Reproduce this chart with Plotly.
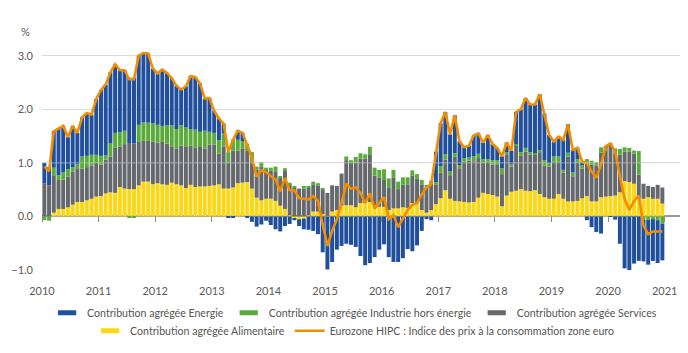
import plotly.graph_objects as go

years = list(range(2010, 2021))
months = [y + (m + 0.5) / 12 for y in years for m in range(12)]
tick_years = list(range(2010, 2022))

energie = [
    0.38, 0.34, 0.68, 0.87, 0.87, 0.60, 0.77, 0.59, 0.73, 0.80, 0.75, 1.04,
    1.23, 1.32, 1.33, 1.28, 1.16, 1.13, 1.22, 1.23, 1.29, 1.29, 1.29, 1.02,
    0.96, 1.05, 0.98, 0.88, 0.81, 0.67, 0.77, 0.99, 0.98, 0.90, 0.60, 0.63,
    0.41, 0.41, 0.18, -0.03, -0.03, 0.17, 0.16, -0.03, -0.10, -0.19, -0.15, -0.08,
    -0.16, -0.24, -0.28, -0.18, -0.14, -0.03, -0.12, -0.20, -0.25, -0.27, -0.33, -0.67,
    -0.99, -0.85, -0.62, -0.55, -0.51, -0.53, -0.57, -0.74, -0.91, -0.87, -0.76, -0.62,
    -0.52, -0.76, -0.85, -0.85, -0.78, -0.61, -0.65, -0.54, -0.27, -0.05, -0.07, 0.57,
    0.80, 0.79, 0.69, 0.71, 0.44, 0.20, 0.22, 0.39, 0.38, 0.31, 0.45, 0.30,
    0.23, 0.22, 0.18, 0.26, 0.60, 0.80, 0.93, 0.89, 0.91, 1.04, 0.87, 0.53,
    0.28, 0.37, 0.56, 0.53, 0.42, 0.21, 0.06, -0.07, -0.20, -0.29, -0.32, 0.04,
    -0.01, -0.06, -0.51, -0.97, -1.02, -0.88, -0.83, -0.78, -0.84, -0.78, -0.80, -0.68,
]
industrie = [
    -0.07, -0.08, 0.14, 0.09, 0.13, 0.14, 0.08, 0.07, 0.23, 0.21, 0.20, 0.15,
    0.16, 0.08, 0.24, 0.28, 0.27, 0.25, -0.03, -0.03, 0.32, 0.35, 0.34, 0.34,
    0.33, 0.30, 0.34, 0.39, 0.36, 0.38, 0.35, 0.31, 0.34, 0.27, 0.33, 0.24,
    0.22, 0.25, 0.24, 0.19, 0.21, 0.20, 0.14, 0.14, 0.18, 0.06, 0.08, 0.03,
    0.05, 0.10, 0.03, 0.05, 0.03, 0.02, -0.01, 0.05, 0.03, 0.05, 0.04, 0.01,
    0.00, 0.00, 0.00, 0.00, 0.07, 0.05, 0.11, 0.10, 0.08, 0.14, 0.15, 0.14,
    0.20, 0.18, 0.14, 0.14, 0.14, 0.13, 0.10, 0.08, 0.08, 0.06, 0.05, 0.04,
    0.12, 0.10, 0.07, 0.06, 0.06, 0.07, 0.06, 0.09, 0.08, 0.06, 0.05, 0.08,
    0.09, 0.11, 0.04, 0.04, 0.02, 0.07, 0.07, 0.05, 0.03, 0.04, 0.10, 0.06,
    0.10, 0.10, 0.05, 0.07, 0.07, 0.06, 0.07, 0.06, 0.07, 0.06, 0.10, 0.05,
    0.03, 0.09, 0.11, 0.08, 0.07, 0.06, 0.44, -0.06, -0.06, -0.05, -0.07, -0.14,
]
services = [
    0.62, 0.58, 0.70, 0.54, 0.55, 0.57, 0.62, 0.63, 0.62, 0.62, 0.62, 0.63,
    0.59, 0.63, 0.67, 0.84, 0.75, 0.83, 0.86, 0.85, 0.81, 0.76, 0.76, 0.80,
    0.76, 0.79, 0.77, 0.68, 0.67, 0.74, 0.78, 0.73, 0.73, 0.75, 0.71, 0.77,
    0.76, 0.57, 0.79, 0.49, 0.69, 0.61, 0.63, 0.58, 0.50, 0.52, 0.63, 0.55,
    0.53, 0.54, 0.52, 0.71, 0.58, 0.54, 0.52, 0.52, 0.52, 0.51, 0.49, 0.47,
    0.43, 0.49, 0.45, 0.60, 0.84, 0.79, 0.83, 0.83, 0.83, 0.89, 0.55, 0.55,
    0.50, 0.41, 0.58, 0.36, 0.42, 0.44, 0.51, 0.45, 0.48, 0.46, 0.50, 0.37,
    0.48, 0.57, 0.44, 0.83, 0.62, 0.75, 0.78, 0.76, 0.74, 0.57, 0.60, 0.57,
    0.59, 0.60, 0.77, 0.47, 0.85, 0.62, 0.73, 0.68, 0.66, 0.78, 0.59, 0.60,
    0.69, 0.60, 0.49, 0.84, 0.47, 0.72, 0.55, 0.63, 0.69, 0.67, 0.83, 0.85,
    0.96, 0.79, 0.70, 0.55, 0.57, 0.56, 0.45, 0.28, 0.21, 0.22, 0.26, 0.30,
]
alimentaire = [
    0.00, 0.00, 0.07, 0.14, 0.14, 0.17, 0.22, 0.27, 0.27, 0.30, 0.33, 0.37,
    0.38, 0.43, 0.45, 0.44, 0.55, 0.52, 0.51, 0.51, 0.58, 0.65, 0.65, 0.60,
    0.62, 0.60, 0.59, 0.63, 0.60, 0.58, 0.53, 0.59, 0.55, 0.56, 0.56, 0.57,
    0.58, 0.60, 0.52, 0.52, 0.54, 0.62, 0.63, 0.64, 0.52, 0.35, 0.30, 0.33,
    0.33, 0.29, 0.20, 0.14, 0.02, -0.04, -0.05, -0.04, 0.02, 0.09, 0.09, 0.04,
    0.01, 0.09, 0.12, 0.20, 0.21, 0.21, 0.17, 0.25, 0.25, 0.27, 0.21, 0.18,
    0.18, 0.12, 0.15, 0.15, 0.17, 0.16, 0.25, 0.26, 0.12, 0.07, 0.12, 0.23,
    0.34, 0.49, 0.33, 0.29, 0.28, 0.27, 0.26, 0.27, 0.35, 0.44, 0.42, 0.40,
    0.37, 0.19, 0.39, 0.46, 0.48, 0.51, 0.48, 0.47, 0.49, 0.42, 0.36, 0.33,
    0.33, 0.42, 0.33, 0.28, 0.28, 0.29, 0.34, 0.38, 0.28, 0.28, 0.36, 0.37,
    0.38, 0.39, 0.45, 0.66, 0.64, 0.61, 0.33, 0.33, 0.36, 0.33, 0.33, 0.24,
]
hipc = [
    0.93, 0.84, 1.59, 1.64, 1.69, 1.48, 1.69, 1.56, 1.85, 1.93, 1.90, 2.19,
    2.36, 2.46, 2.69, 2.84, 2.73, 2.73, 2.56, 2.56, 3.00, 3.05, 3.04, 2.76,
    2.67, 2.74, 2.68, 2.58, 2.44, 2.37, 2.43, 2.62, 2.60, 2.48, 2.20, 2.21,
    1.97, 1.83, 1.73, 1.20, 1.43, 1.60, 1.56, 1.33, 1.10, 0.74, 0.86, 0.83,
    0.75, 0.69, 0.47, 0.72, 0.49, 0.49, 0.34, 0.33, 0.32, 0.38, 0.29, -0.15,
    -0.55, -0.27, -0.05, 0.25, 0.61, 0.52, 0.54, 0.44, 0.25, 0.43, 0.15, 0.25,
    0.36, -0.05, 0.02, -0.20, -0.05, 0.12, 0.21, 0.25, 0.41, 0.54, 0.60, 1.21,
    1.74, 1.95, 1.53, 1.89, 1.40, 1.29, 1.32, 1.51, 1.55, 1.38, 1.52, 1.35,
    1.28, 1.12, 1.38, 1.23, 1.95, 2.00, 2.21, 2.09, 2.09, 2.28, 1.92, 1.52,
    1.40, 1.49, 1.43, 1.72, 1.24, 1.28, 1.02, 1.00, 0.84, 0.72, 0.97, 1.31,
    1.36, 1.21, 0.75, 0.32, 0.12, 0.29, 0.39, -0.17, -0.33, -0.28, -0.28, -0.28,
]

names = {
    "e": "Contribution agrégée Energie",
    "i": "Contribution agrégée Industrie hors énergie",
    "s": "Contribution agrégée Services",
    "a": "Contribution agrégée Alimentaire",
    "h": "Eurozone HIPC : Indice des prix à la consommation zone euro",
}
colors = {"e": "#1f4f9d", "i": "#5aab3b", "s": "#65686c", "a": "#fcd718", "h": "#f28c00"}

fig = go.Figure()
# stacked bars (first trace nearest zero)
for key, vals in [("a", alimentaire), ("s", services), ("i", industrie), ("e", energie)]:
    fig.add_trace(go.Bar(x=months, y=vals, name=names[key], marker_color=colors[key],
                         marker_line_width=0, showlegend=False))
fig.add_trace(go.Scatter(x=months, y=hipc, name=names["h"], mode="lines",
                         line=dict(color=colors["h"], width=2.6), legend="legend2", legendrank=2))

# legend-only entries with flat rectangular swatches
for key, leg, rank in [("e", "legend", 1), ("i", "legend", 2), ("s", "legend", 3), ("a", "legend2", 1)]:
    fig.add_trace(go.Scatter(x=[None], y=[None], mode="markers", name=names[key],
                             marker=dict(symbol="line-ew", size=13,
                                         line=dict(color=colors[key], width=5)),
                             legend=leg, legendrank=rank, hoverinfo="skip"))

# invisible trace carrying the tick axis placed on the zero line
fig.add_trace(go.Scatter(x=[tick_years[0]], y=[0], xaxis="x2", mode="markers",
                         marker=dict(opacity=0), showlegend=False, hoverinfo="skip"))

ymin, ymax = -1.0, 3.2
font = dict(family="Lato", size=11, color="#595959")
lfont = dict(family="Lato", size=10.6, color="#555555")

fig.update_layout(
    width=688, height=353,
    margin=dict(l=42, r=8, t=45, b=80),
    paper_bgcolor="white", plot_bgcolor="white",
    barmode="relative", bargap=0.16,
    font=font,
    showlegend=True,
    xaxis=dict(range=[2010, 2021.27], tickvals=tick_years, ticktext=[str(y) for y in tick_years],
               showgrid=False, zeroline=False, showline=False, ticks="",
               ticklabelstandoff=13, tickfont=font),
    xaxis2=dict(range=[2010, 2021.27], overlaying="x", anchor="free",
                position=(0 - ymin) / (ymax - ymin), tickvals=tick_years,
                showticklabels=False, ticks="outside", ticklen=5, tickcolor="#8a8a8a",
                tickwidth=1, showgrid=False, zeroline=False, showline=False, side="bottom"),
    yaxis=dict(range=[ymin, ymax], tickvals=[-1, 0, 1, 2, 3], tickformat=".1f",
               showgrid=True, gridcolor="#d9dadc", gridwidth=1,
               zeroline=True, zerolinecolor="#9b9b9b", zerolinewidth=1.5,
               ticks="", ticklabelstandoff=8, tickfont=font),
    legend=dict(orientation="h", x=0.49, xanchor="center", y=-0.19, yanchor="middle",
                font=lfont, traceorder="normal", itemwidth=30, bgcolor="rgba(0,0,0,0)"),
    legend2=dict(orientation="h", x=0.49, xanchor="center", y=-0.27, yanchor="middle",
                 font=lfont, traceorder="normal", itemwidth=30, bgcolor="rgba(0,0,0,0)"),
    annotations=[dict(text="%", xref="paper", yref="paper", x=-0.015, y=1.06,
                      xanchor="right", yanchor="middle", showarrow=False, font=font)],
    shapes=[dict(type="line", xref="paper", yref="y", x0=0, x1=1, y0=1, y1=1,
                 line=dict(color="rgba(215,218,222,0.55)", width=1), layer="above")],
)

fig.write_html("out.html")
